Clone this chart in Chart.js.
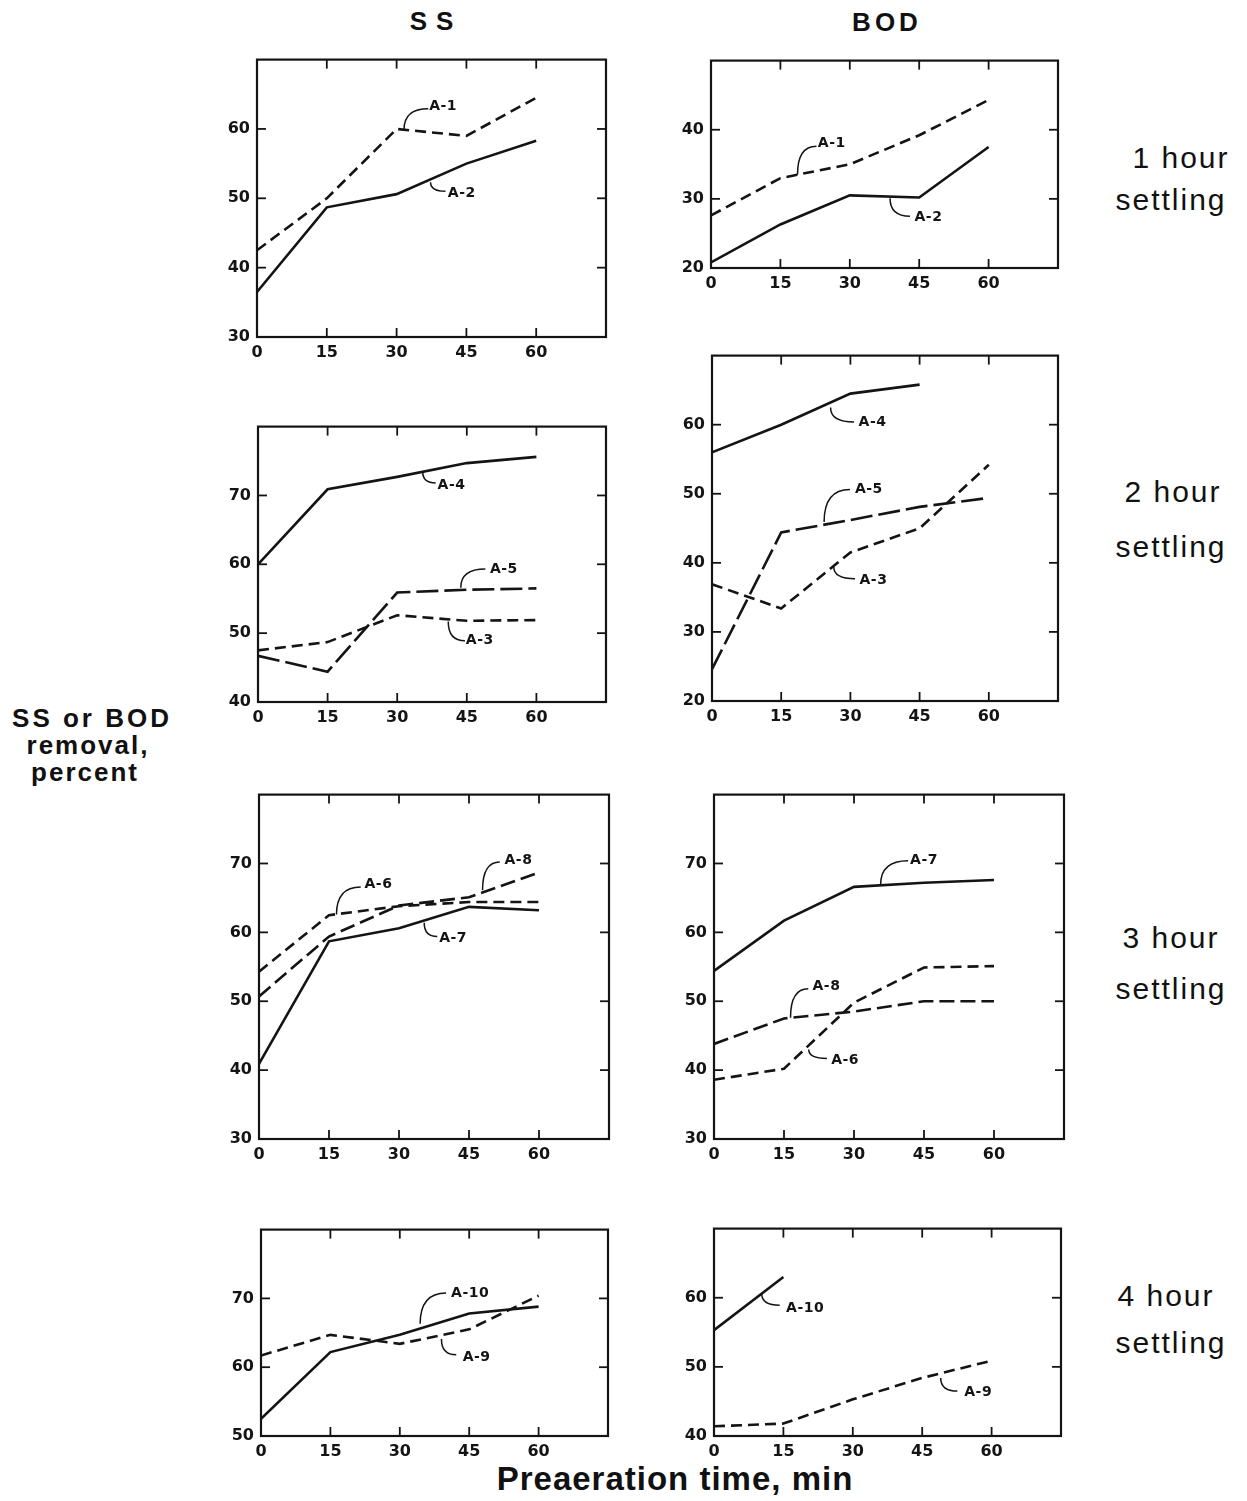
<!DOCTYPE html>
<html><head><meta charset="utf-8">
<script src="https://cdn.jsdelivr.net/npm/chart.js@4.4.1/dist/chart.umd.min.js"></script>
<style>
html,body{margin:0;padding:0;background:#fff}
body{width:1247px;height:1501px;position:relative;overflow:hidden;font-family:"Liberation Sans",Arial,sans-serif;color:#111}
canvas{position:absolute}
.t{position:absolute;white-space:nowrap;transform:translate(-50%,-50%);line-height:1;color:#111}
.hd{font-weight:bold;font-size:26px}
.rt{font-size:30px;letter-spacing:2px}
.lf{font-weight:bold;font-size:26px;letter-spacing:2px}
.bt{font-weight:bold;font-size:33px;letter-spacing:1px}
</style></head><body>
<div class="t hd" style="left:436px;top:21px;letter-spacing:9px">SS</div>
<div class="t hd" style="left:887px;top:22px;letter-spacing:4px">BOD</div>
<div class="t rt" style="left:1181px;top:158px">1 hour</div>
<div class="t rt" style="left:1171px;top:200px">settling</div>
<div class="t rt" style="left:1173px;top:492px">2 hour</div>
<div class="t rt" style="left:1171px;top:547px">settling</div>
<div class="t rt" style="left:1171px;top:938px">3 hour</div>
<div class="t rt" style="left:1171px;top:989px">settling</div>
<div class="t rt" style="left:1166px;top:1296px">4 hour</div>
<div class="t rt" style="left:1171px;top:1343px">settling</div>
<div class="t lf" style="left:92px;top:718px;letter-spacing:3px">SS or BOD</div>
<div class="t lf" style="left:88px;top:745px">removal,</div>
<div class="t lf" style="left:85px;top:772px">percent</div>
<div class="t bt" style="left:675px;top:1478px">Preaeration time, min</div>
<script>
// ---- data ----
const minutes = [0, 15, 30, 45, 60];
const xTicks = [0, 15, 30, 45, 60];

const ss1_A1 = [42.5, 50.0, 60.0, 59.0, 64.5];
const ss1_A2 = [36.5, 48.7, 50.6, 55.0, 58.3];
const bod1_A1 = [27.6, 33.0, 35.0, 39.2, 44.3];
const bod1_A2 = [20.8, 26.3, 30.5, 30.2, 37.5];

const ss2_A4 = [60.0, 70.9, 72.7, 74.7, 75.6];
const ss2_A5 = [46.7, 44.4, 55.9, 56.3, 56.5];
const ss2_A3 = [47.5, 48.7, 52.6, 51.8, 51.9];
const bod2_A4 = [56.0, 60.0, 64.5, 65.8];
const bod2_A5 = [24.6, 44.4, 46.2, 48.1, 49.4];
const bod2_A3 = [36.9, 33.4, 41.5, 45.0, 54.2];

const ss3_A6 = [54.3, 62.5, 63.8, 64.4, 64.4];
const ss3_A8 = [50.7, 59.4, 63.9, 65.1, 68.7];
const ss3_A7 = [40.9, 58.7, 60.6, 63.7, 63.2];
const bod3_A7 = [54.4, 61.7, 66.6, 67.2, 67.6];
const bod3_A8 = [43.8, 47.5, 48.5, 50.0, 50.0];
const bod3_A6 = [38.6, 40.2, 49.8, 54.9, 55.1];

const ss4_A10 = [52.5, 62.2, 64.7, 67.8, 68.8];
const ss4_A9 = [61.7, 64.7, 63.4, 65.5, 70.4];
const bod4_A10 = [55.3, 63.0];
const bod4_A9 = [41.4, 41.8, 45.3, 48.4, 50.9];

// ---- styles ----
const DASH = {solid: [], dash: [11, 6], long: [22, 6], mid: [15, 6]};

// panels: box [left, top, right, bottom], y range, series, labels [text, tx, ty, sx, sy, ex, ey]
const panels = [
  {box:[257,55,606,337], yr:[30,70], series:[[ss1_A1,'dash'],[ss1_A2,'solid']],
   notes:[['A-1',40.0,63.2,36.8,62.9,31.6,59.9],['A-2',44.0,50.75,40.5,51.0,37.3,52.3]]},
  {box:[711,56,1058,268], yr:[20,50], series:[[bod1_A1,'dash'],[bod1_A2,'solid']],
   notes:[['A-1',26.1,38.1,22.8,37.6,18.7,33.5],['A-2',47.0,27.3,43.0,27.5,38.7,30.1]]},
  {box:[258,422,606,702], yr:[40,80], series:[[ss2_A4,'solid'],[ss2_A5,'long'],[ss2_A3,'dash']],
   notes:[['A-4',41.7,71.5,38.3,71.8,35.5,73.4],['A-5',53.0,59.3,49.0,59.3,43.7,56.6],['A-3',47.8,48.9,44.6,48.9,41.0,51.7]]},
  {box:[712,351,1058,701], yr:[20,70], series:[[bod2_A4,'solid'],[bod2_A5,'long'],[bod2_A3,'dash']],
   notes:[['A-4',34.8,60.3,30.8,60.4,25.7,62.5],['A-5',34.0,50.6,29.9,50.6,24.3,45.9],['A-3',35.0,37.4,31.0,37.7,26.4,39.4]]},
  {box:[259,790,609,1139], yr:[30,80], series:[[ss3_A6,'dash'],[ss3_A8,'mid'],[ss3_A7,'solid']],
   notes:[['A-6',25.6,67.0,21.8,66.6,16.6,62.6],['A-8',55.6,70.4,51.6,70.2,47.9,66.1],['A-7',41.6,59.1,38.2,59.4,35.4,61.4]]},
  {box:[714,790,1064,1139], yr:[30,80], series:[[bod3_A7,'solid'],[bod3_A8,'mid'],[bod3_A6,'dash']],
   notes:[['A-7',45.0,70.5,41.6,70.4,35.7,66.9],['A-8',24.1,52.1,20.2,51.8,16.4,47.6],['A-6',28.1,41.4,24.2,41.7,20.3,43.0]]},
  {box:[261,1225,608,1436], yr:[50,80], series:[[ss4_A10,'solid'],[ss4_A9,'dash']],
   notes:[['A-10',45.2,70.8,40.0,70.8,34.4,66.3],['A-9',46.6,61.4,42.2,61.8,39.0,64.1]]},
  {box:[714,1224,1061,1436], yr:[40,70], series:[[bod4_A10,'solid'],[bod4_A9,'dash']],
   notes:[['A-10',19.7,58.5,14.2,58.9,10.3,60.6],['A-9',57.1,46.3,52.6,46.5,49.0,48.4]]}
];

const Y_W = 52, PAD_T = 12, PAD_R = 12, X_H = 34;
const INK = '#141414';
const NUM_FONT = '"DejaVu Sans", "Liberation Sans", Arial, sans-serif';

const framePlugin = {
  id: 'frame',
  afterDatasetsDraw(chart) {
    const {ctx, chartArea: a, scales: {x, y}} = chart;
    const notes = chart.options.plugins.frame.notes;
    ctx.save();
    ctx.strokeStyle = INK;
    ctx.setLineDash([]);
    ctx.lineWidth = 2.2;
    ctx.strokeRect(a.left, a.top, a.right - a.left, a.bottom - a.top);
    ctx.lineWidth = 1.8;
    const seg = (x1, y1, x2, y2) => { ctx.beginPath(); ctx.moveTo(x1, y1); ctx.lineTo(x2, y2); ctx.stroke(); };
    x.ticks.forEach(t => {
      if (t.value <= x.min || t.value >= x.max || t.value > 60) return;
      const px = x.getPixelForValue(t.value);
      seg(px, a.bottom, px, a.bottom - 9);
      seg(px, a.top, px, a.top + 9);
    });
    y.ticks.forEach(t => {
      if (t.value <= y.min || t.value >= y.max) return;
      const py = y.getPixelForValue(t.value);
      seg(a.left, py, a.left + 9, py);
      seg(a.right, py, a.right - 9, py);
    });
    // curve labels
    ctx.lineWidth = 1.5;
    ctx.fillStyle = INK;
    ctx.font = 'bold 14px ' + NUM_FONT;
    if ('letterSpacing' in ctx) ctx.letterSpacing = '0.5px';
    ctx.textAlign = 'center';
    ctx.textBaseline = 'middle';
    notes.forEach(n => {
      const [txt, tx, ty, sx, sy, ex, ey] = n;
      ctx.fillText(txt, x.getPixelForValue(tx), y.getPixelForValue(ty));
      const p0x = x.getPixelForValue(sx), p0y = y.getPixelForValue(sy);
      const p1x = x.getPixelForValue(ex), p1y = y.getPixelForValue(ey);
      ctx.beginPath();
      ctx.moveTo(p0x, p0y);
      ctx.quadraticCurveTo(p1x, p0y, p1x, p1y);
      ctx.stroke();
    });
    ctx.restore();
  }
};

panels.forEach(p => {
  const [l, t, r, b] = p.box;
  const cv = document.createElement('canvas');
  const W = Y_W + (r - l) + PAD_R, H = PAD_T + (b - t) + X_H;
  cv.width = W; cv.height = H;
  cv.style.left = (l - Y_W) + 'px';
  cv.style.top = (t - PAD_T) + 'px';
  cv.style.width = W + 'px'; cv.style.height = H + 'px';
  document.body.appendChild(cv);
  const datasets = p.series.map(([vals, style]) => ({
    data: vals.map((v, i) => ({x: minutes[i], y: v})),
    borderColor: INK,
    borderWidth: 2.6,
    borderDash: DASH[style],
    pointRadius: 0,
    tension: 0,
    fill: false
  }));
  const tickFont = {family: NUM_FONT, size: 16, weight: 'bold'};
  new Chart(cv, {
    type: 'line',
    data: {datasets},
    options: {
      responsive: false,
      animation: false,
      devicePixelRatio: 1,
      layout: {padding: {left: 0, top: PAD_T, right: PAD_R, bottom: 0}},
      plugins: {legend: {display: false}, tooltip: {enabled: false}, frame: {notes: p.notes}},
      scales: {
        x: {
          type: 'linear', min: 0, max: 75,
          afterBuildTicks: s => { s.ticks = xTicks.concat([75]).map(v => ({value: v})); },
          grid: {display: false, drawTicks: false},
          border: {display: false},
          ticks: {color: INK, font: tickFont, padding: 6, maxRotation: 0, autoSkip: false,
                  callback: v => (v > 60 ? '' : String(v))},
          afterFit: s => { s.height = X_H; }
        },
        y: {
          type: 'linear', min: p.yr[0], max: p.yr[1],
          grid: {display: false, drawTicks: false},
          border: {display: false},
          ticks: {color: INK, font: tickFont, padding: 7, stepSize: 10,
                  callback: v => (v >= p.yr[1] ? '' : String(v))},
          afterFit: s => { s.width = Y_W; }
        }
      }
    },
    plugins: [framePlugin]
  });
});
</script>
</body></html>
